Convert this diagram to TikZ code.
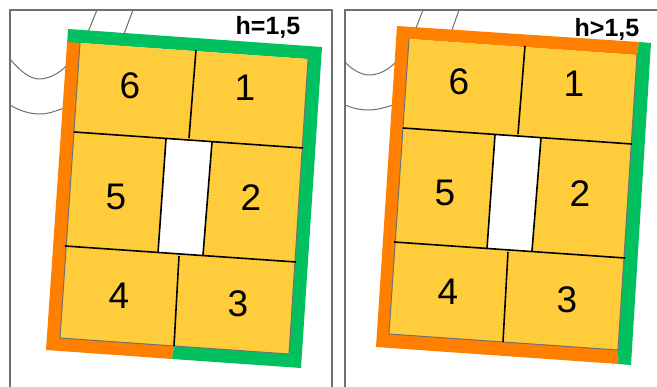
\documentclass[tikz,border=0pt]{standalone}
\usepackage{fontspec}
\setmainfont{Liberation Sans}
\definecolor{roomfill}{HTML}{FFCC3B}
\definecolor{edgeorange}{HTML}{FF8000}
\definecolor{edgegreen}{HTML}{00C05F}
\definecolor{framegrey}{HTML}{707070}
\tikzset{
  x=1pt,y=-1pt,
  frameline/.style={draw=framegrey,line width=2pt},
  siteline/.style={draw=framegrey,line width=1pt},
  wall/.style={draw=black,line width=1.6pt},
  digit/.style={font=\fontsize{37}{37}\selectfont,inner sep=0pt},
  tag/.style={font=\fontsize{25}{25}\selectfont\bfseries,inner sep=0pt},
}
\newcommand{\roomsgrid}{%
  \coordinate (iTL) at (80,43);
  \coordinate (iTR) at (308,59);
  \coordinate (iBR) at (289,354);
  \coordinate (iBL) at (60,338);
  \fill[roomfill] (iTL) -- (iTR) -- (iBR) -- (iBL) -- cycle;
  \draw[siteline] (iTL) -- (iBL) -- (iBR);
  \draw[siteline] (iBR) -- (iTR);
  \coordinate (a1) at (74,132);
  \coordinate (a2) at (303,148);
  \coordinate (b1) at (65,246);
  \coordinate (b2) at (296,262);
  \coordinate (c1) at (196,50);
  \coordinate (c2) at (189,138);
  \coordinate (d1) at (179,256);
  \coordinate (d2) at (174,346);
  \coordinate (w1) at (166,139);
  \coordinate (w2) at (212,142);
  \coordinate (w3) at (203,255);
  \coordinate (w4) at (158,253);
  \fill[white] (w1) -- (w2) -- (w3) -- (w4) -- cycle;
  \draw[wall] (a1) -- (a2);
  \draw[wall] (b1) -- (b2);
  \draw[wall] (c1) -- (c2);
  \draw[wall] (d1) -- (d2);
  \draw[wall] (w1) -- (w4);
  \draw[wall] (w2) -- (w3);
  \node[digit] (n6) at (130,86) {6};
  \node[digit] (n1) at (245,88) {1};
  \node[digit] (n5) at (116,197) {5};
  \node[digit] (n2) at (251,198) {2};
  \node[digit] (n4) at (119,296) {4};
  \node[digit] (n3) at (238,304) {3};
}
\begin{document}
\begin{tikzpicture}
\useasboundingbox (0,0) rectangle (657,387);
\fill[white] (0,0) rectangle (657,387);
% frames
\draw[frameline] (9.5,387) -- (9.5,10.5) -- (332,10.5) -- (332,387);
\draw[frameline] (344.5,387) -- (344.5,10.5) -- (657,10.5);
% site lines, left
\draw[siteline] (97,10) -- (88,32);
\draw[siteline] (133,10) -- (124,34);
\draw[siteline] (10,59) .. controls (20,71) and (30,79) .. (39,79) .. controls (49,79) and (60,73) .. (67,65);
\draw[siteline] (10,105) .. controls (20,111) and (30,114) .. (40,114) .. controls (48,114) and (56,111) .. (64,108);
% site lines, right
\draw[siteline] (423,10) -- (416,28);
\draw[siteline] (459,10) -- (452,30);
\draw[siteline] (345,62) .. controls (352,70) and (362,75) .. (369,75) .. controls (379,75) and (388,70) .. (396,62);
\draw[siteline] (345,105) .. controls (352,108) and (360,110) .. (368,110) .. controls (376,110) and (384,108) .. (393,105);
% left building edges
\fill[edgeorange] (68,29) -- (80,43) -- (60,338) -- (174,346) -- (172,359) -- (46,350) -- cycle;
\fill[edgegreen] (68,29) -- (322,47) -- (301,368) -- (172,359) -- (174,346) -- (289,354) -- (308,59) -- (80,43) -- (68.2,42) -- cycle;
\begin{scope}[name prefix=L-]
\roomsgrid
\end{scope}
\node[tag] (tagL) at (268,27) {h=1,5};
% right building edges
\fill[edgeorange] (397,26) -- (639,42) -- (637,55) -- (409,39) -- (389,334) -- (618,350) -- (619,364) -- (376,347) -- cycle;
\fill[edgegreen] (639,42) -- (651,43) -- (631,365) -- (618.5,364) -- (618,350) -- (637,55) -- cycle;
\begin{scope}[shift={(329,-4)},name prefix=R-]
\roomsgrid
\end{scope}
\node[tag] (tagR) at (607,29) {h>1,5};
\end{tikzpicture}
\end{document}
